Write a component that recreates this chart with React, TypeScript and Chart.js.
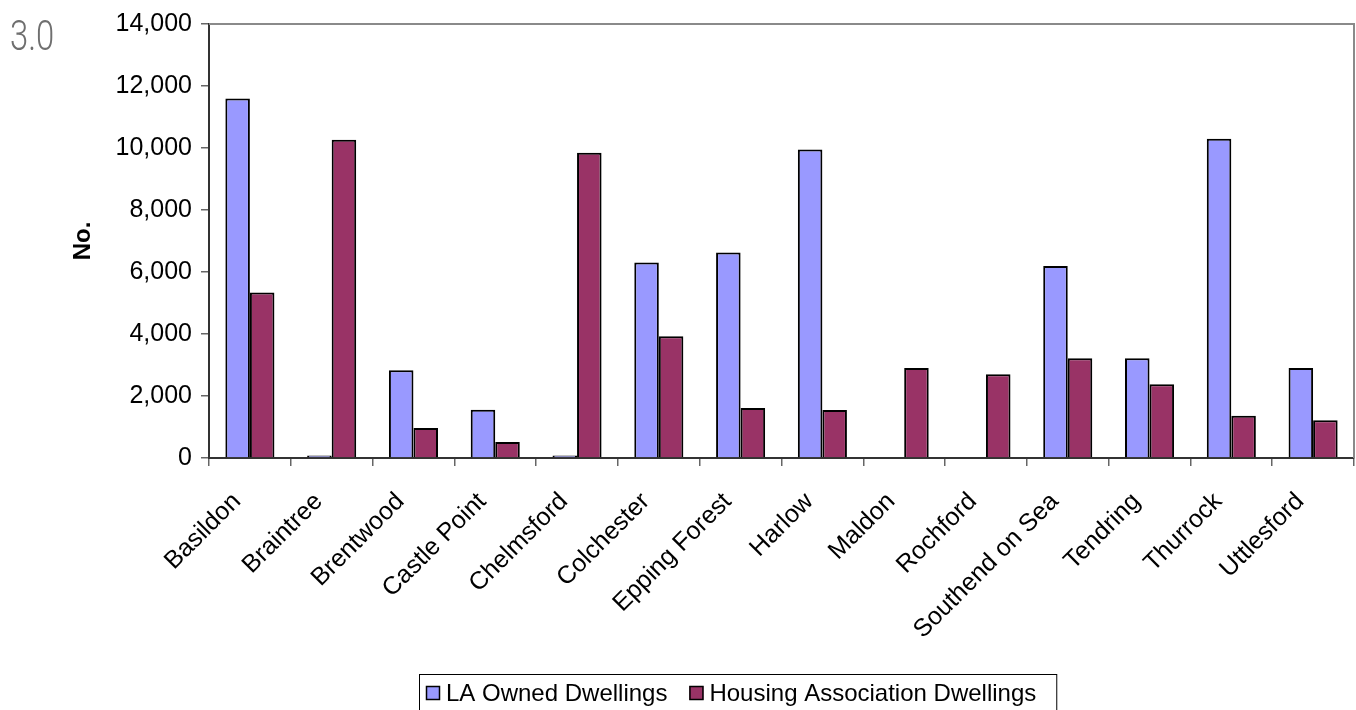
import React, { useEffect, useRef } from "react";
import { Chart, registerables } from "chart.js";

Chart.register(...registerables);

const categories = [
  "Basildon",
  "Braintree",
  "Brentwood",
  "Castle Point",
  "Chelmsford",
  "Colchester",
  "Epping Forest",
  "Harlow",
  "Maldon",
  "Rochford",
  "Southend on Sea",
  "Tendring",
  "Thurrock",
  "Uttlesford",
];
const seriesLabels = ["LA Owned Dwellings", "Housing Association Dwellings"];
const laOwned = [11600, 80, 2830, 1560, 80, 6310, 6630, 9950, 0, 0, 6190, 3220, 10300, 2900];
const housingAssoc = [5340, 10270, 970, 520, 9850, 3930, 1610, 1550, 2900, 2700, 3220, 2380, 1360, 1220];
const yMin = 0;
const yMax = 14000;
const yStep = 2000;
const yTitle = "No.";
const cornerText = "3.0";

const FONT = "'Liberation Sans', Arial, sans-serif";

const frameAndLegend = {
  id: "frameAndLegend",
  afterDraw(chart: any) {
    const { ctx, chartArea } = chart;
    ctx.save();
    // top and right frame lines
    ctx.strokeStyle = "#8a8a8a";
    ctx.lineWidth = 2;
    ctx.beginPath();
    ctx.moveTo(chartArea.left, chartArea.top);
    ctx.lineTo(chartArea.right, chartArea.top);
    ctx.lineTo(chartArea.right, chartArea.bottom);
    ctx.stroke();

    // legend
    ctx.font = `24px ${FONT}`;
    const ds = chart.data.datasets;
    const widths = ds.map((d: any) => ctx.measureText(d.label).width);
    const left = 419;
    const top = 674;
    const boxSize = 14;
    const padL = 7;
    const gapBoxText = 6;
    const gapItems = 22;
    const padR = 20;
    let total = padL + padR;
    widths.forEach((w: number, i: number) => {
      total += boxSize + gapBoxText + w + (i < widths.length - 1 ? gapItems : 0);
    });
    ctx.strokeStyle = "#000";
    ctx.lineWidth = 1;
    ctx.strokeRect(left + 0.5, top + 0.5, total, 60);
    let x = left + padL;
    const cy = 693;
    ds.forEach((d: any, i: number) => {
      ctx.fillStyle = d.backgroundColor;
      ctx.fillRect(x, cy - 7, boxSize, boxSize);
      ctx.strokeStyle = "#000";
      ctx.lineWidth = 1.5;
      ctx.strokeRect(x + 0.5, cy - 7 + 0.5, boxSize - 1, boxSize - 1);
      x += boxSize + gapBoxText;
      ctx.fillStyle = "#000";
      ctx.textBaseline = "middle";
      ctx.textAlign = "left";
      ctx.fillText(d.label, x, cy + 1);
      x += widths[i] + gapItems;
    });
    ctx.restore();
  },
};

export default function App() {
  const canvasRef = useRef<HTMLCanvasElement | null>(null);

  useEffect(() => {
    document.body.style.margin = "0";
    const canvas = canvasRef.current;
    if (!canvas) return;
    const chart = new Chart(canvas, {
      type: "bar",
      data: {
        labels: categories,
        datasets: [
          {
            label: seriesLabels[0],
            data: laOwned,
            backgroundColor: "#9999FF",
            borderColor: "#000000",
            borderWidth: 2,
          },
          {
            label: seriesLabels[1],
            data: housingAssoc,
            backgroundColor: "#993366",
            borderColor: "#000000",
            borderWidth: 2,
          },
        ],
      },
      options: {
        responsive: false,
        animation: false,
        devicePixelRatio: 1,
        layout: { padding: { top: 23, right: 2, left: 0, bottom: 0 } },
        datasets: {
          bar: { barPercentage: 1.0, categoryPercentage: 0.6 },
        },
        plugins: {
          legend: { display: false },
          tooltip: { enabled: false },
          title: { display: false },
        },
        scales: {
          x: {
            grid: {
              display: true,
              drawOnChartArea: false,
              drawTicks: true,
              tickLength: 8,
              color: "#666",
              lineWidth: 1.5,
              offset: true,
            },
            border: { display: true, color: "#333", width: 2 },
            ticks: {
              autoSkip: false,
              maxRotation: 45,
              minRotation: 45,
              padding: 21,
              labelOffset: -13,
              color: "#000",
              font: { family: FONT, size: 25 },
            },
            afterFit(scale: any) {
              scale.height = 252;
            },
          },
          y: {
            min: yMin,
            max: yMax,
            grid: {
              display: true,
              drawOnChartArea: false,
              drawTicks: true,
              tickLength: 8,
              color: "#666",
              lineWidth: 1.5,
            },
            border: { display: true, color: "#333", width: 2 },
            ticks: {
              stepSize: yStep,
              padding: 9,
              color: "#000",
              font: { family: FONT, size: 25 },
              callback: (v: any) => Number(v).toLocaleString("en-US"),
            },
            title: {
              display: true,
              text: yTitle,
              color: "#000",
              font: { family: FONT, size: 24, weight: "bold" },
              padding: { top: 69, bottom: 0 },
            },
            afterFit(scale: any) {
              scale.width = 209;
            },
          },
        },
      },
      plugins: [frameAndLegend],
    });
    return () => chart.destroy();
  }, []);

  return (
    <div style={{ position: "absolute", left: 0, top: 0, width: 1356, height: 710, overflow: "hidden", background: "#fff" }}>
      <canvas ref={canvasRef} width={1356} height={710} style={{ display: "block" }} />
      <div
        style={{
          position: "absolute",
          left: 10,
          top: 14,
          fontFamily: "Roboto, 'Liberation Sans', sans-serif",
          fontWeight: 300,
          fontSize: 42,
          lineHeight: "44px",
          color: "#6f6f6f",
          transform: "scaleX(0.78)",
          transformOrigin: "left top",
          whiteSpace: "nowrap",
        }}
      >
        {cornerText}
      </div>
    </div>
  );
}
